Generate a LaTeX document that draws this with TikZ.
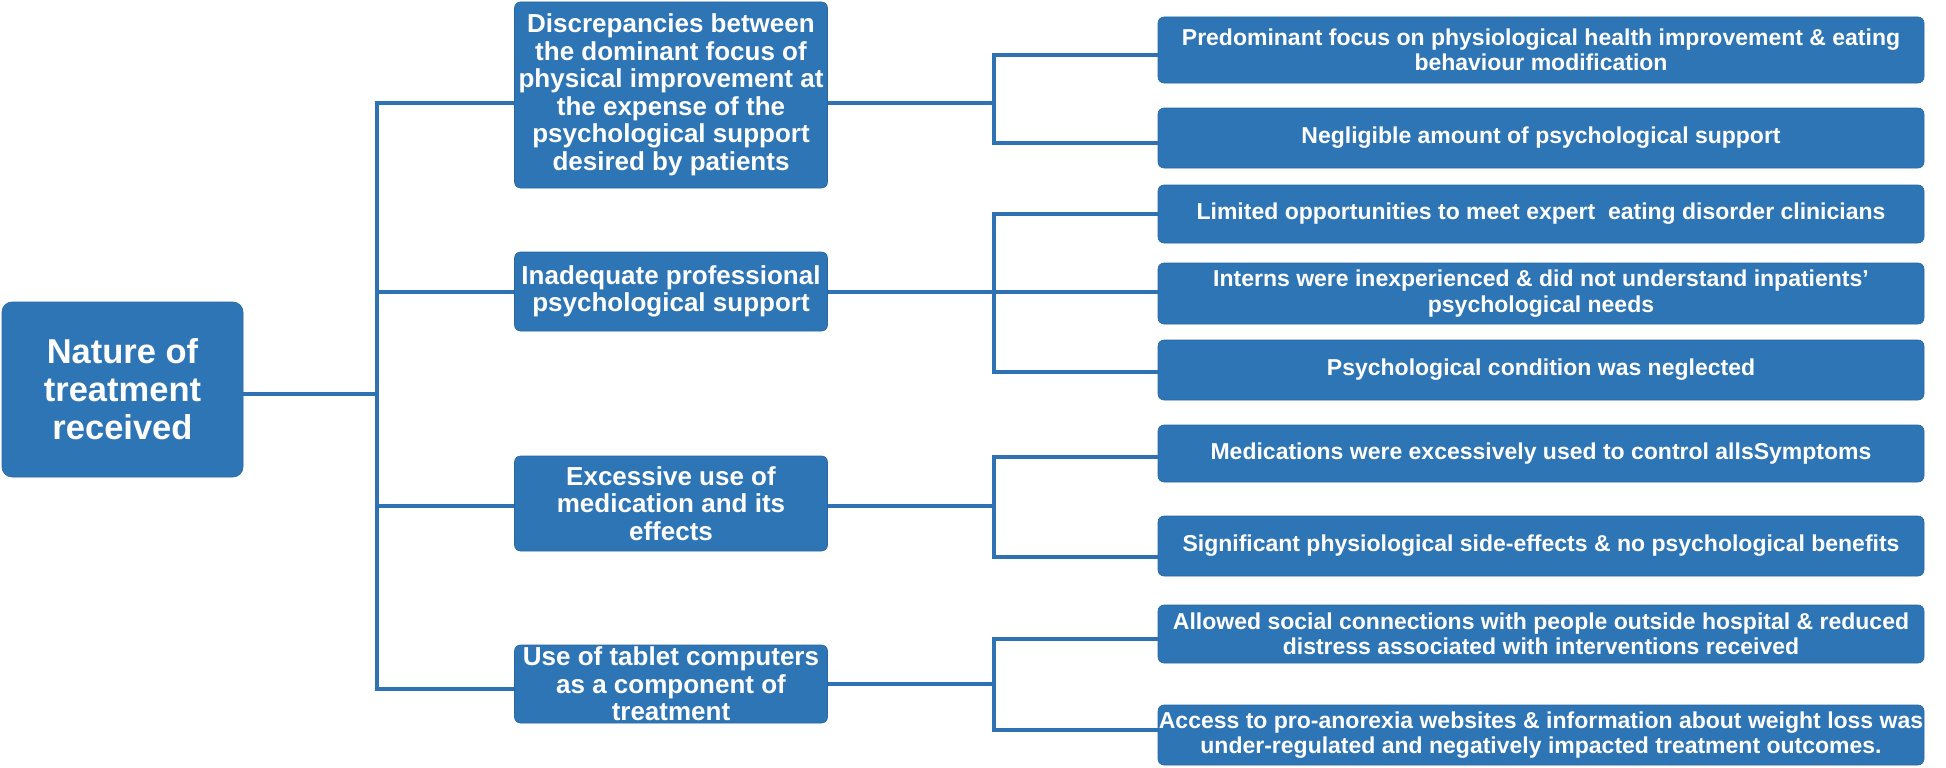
\documentclass[tikz,border=0pt]{standalone}
\usepackage{fontspec}
\setmainfont{Liberation Sans}
\usetikzlibrary{calc}
\definecolor{boxblue}{RGB}{46,117,182}
\definecolor{lineblue}{RGB}{46,114,180}
\begin{document}
\begin{tikzpicture}[x=1pt,y=-1pt,
  box/.style={fill=boxblue, draw=boxblue!88!black, line width=0.6pt, rounded corners=6pt,
    text=white, font=\bfseries\fontsize{26}{27.5}\selectfont, align=center, inner sep=0pt},
  midbox/.style={box, minimum width=313pt},
  leafbox/.style={box, minimum width=766pt, font=\bfseries\fontsize{23}{25.5}\selectfont},
  conn/.style={draw=lineblue, line width=4pt, line join=miter}]
\useasboundingbox (0,0) rectangle (1946,768);

% root
\node[box, minimum width=241pt, minimum height=175pt, rounded corners=10pt,
  font=\bfseries\fontsize{34.5}{38}\selectfont] (root) at (122.5,389.5) {Nature of\\treatment\\received};

% middle level
\node[midbox, minimum height=186pt] (b1) at (671,95) {Discrepancies between\\the dominant focus of\\physical improvement at\\the expense of the\\psychological support\\desired by patients};
\node[midbox, minimum height=79pt] (b2) at (671,291.5) {Inadequate professional\\psychological support};
\node[midbox, minimum height=95pt] (b3) at (671,503.5) {Excessive use of\\medication and its\\effects};
\node[midbox, minimum height=78pt] (b4) at (671,684) {Use of tablet computers\\as a component of\\treatment};

% leaves
\node[leafbox, minimum height=66pt] (cA) at (1541,50) {Predominant focus on physiological health improvement \& eating\\behaviour modification};
\node[leafbox, minimum height=60pt] (cB) at (1541,138) {Negligible amount of psychological support};
\node[leafbox, minimum height=58pt] (cC) at (1541,214) {Limited opportunities to meet expert\ \ eating disorder clinicians};
\node[leafbox, minimum height=61pt] (cD) at (1541,293.5) {Interns were inexperienced \& did not understand inpatients'\\psychological needs};
\node[leafbox, minimum height=60pt] (cE) at (1541,370) {Psychological condition was neglected};
\node[leafbox, minimum height=57pt] (cF) at (1541,453.5) {Medications were excessively used to control allsSymptoms};
\node[leafbox, minimum height=60pt] (cG) at (1541,546) {Significant physiological side-effects \& no psychological benefits};
\node[leafbox, minimum height=58pt] (cH) at (1541,634) {Allowed social connections with people outside hospital \& reduced\\distress associated with interventions received};
\node[leafbox, minimum height=60pt] (cI) at (1541,735) {Access to pro-anorexia websites \& information about weight loss was\\under-regulated and negatively impacted treatment outcomes.};

% trunk junctions
\coordinate (t0) at (377,394);
\coordinate (t1) at (377,103);
\coordinate (t2) at (377,292);
\coordinate (t3) at (377,506);
\coordinate (t4) at (377,689);
% sub-trunk junctions
\coordinate (m1) at (994,103);
\coordinate (s1a) at (994,55);
\coordinate (s1b) at (994,143);
\coordinate (m2) at (994,292);
\coordinate (s2a) at (994,214);
\coordinate (s2b) at (994,372);
\coordinate (m3) at (994,506);
\coordinate (s3a) at (994,457);
\coordinate (s3b) at (994,557);
\coordinate (m4) at (994,684);
\coordinate (s4a) at (994,639);
\coordinate (s4b) at (994,730);

% main trunk
\draw[conn] (t0 -| root.east) -- (t0);
\draw[conn] (t1 -| b1.west) -- (t1) -- (t4) -- (t4 -| b4.west);
\draw[conn] (t2) -- (t2 -| b2.west);
\draw[conn] (t3) -- (t3 -| b3.west);

% group 1
\draw[conn] (m1 -| b1.east) -- (m1);
\draw[conn] (s1a -| cA.west) -- (s1a) -- (s1b) -- (s1b -| cB.west);
% group 2
\draw[conn] (m2 -| b2.east) -- (m2) -- (m2 -| cD.west);
\draw[conn] (s2a -| cC.west) -- (s2a) -- (s2b) -- (s2b -| cE.west);
% group 3
\draw[conn] (m3 -| b3.east) -- (m3);
\draw[conn] (s3a -| cF.west) -- (s3a) -- (s3b) -- (s3b -| cG.west);
% group 4
\draw[conn] (m4 -| b4.east) -- (m4);
\draw[conn] (s4a -| cH.west) -- (s4a) -- (s4b) -- (s4b -| cI.west);
\end{tikzpicture}
\end{document}
